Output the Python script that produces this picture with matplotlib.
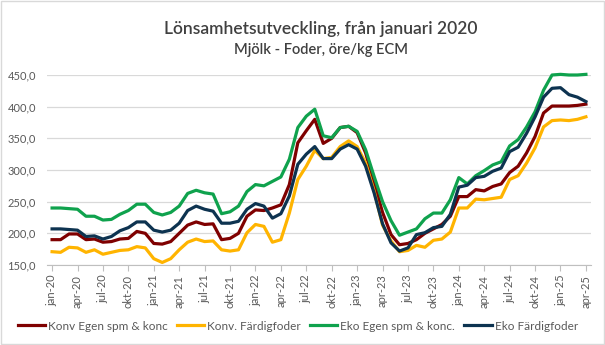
import matplotlib
matplotlib.use('Agg')
import matplotlib.pyplot as plt
import matplotlib.patches as patches
import numpy as np

plt.rcParams['font.family'] = ['Lato', 'DejaVu Sans']

# Månader jan-20 .. apr-25
monthNames = ['jan', 'feb', 'mar', 'apr', 'maj', 'jun', 'jul', 'aug', 'sep', 'okt', 'nov', 'dec']
months = [monthNames[m % 12] + '-' + str(20 + m // 12) for m in range(64)]

konvEgen = [190, 190, 199, 199, 190, 191, 186, 187, 191, 192, 203, 200, 184, 183, 187, 200,
            213, 218, 214, 215, 190, 192, 200, 227, 237, 236, 240, 245, 277, 343, 362, 380,
            342, 350, 367, 369, 359, 327, 280, 233, 198, 182, 184, 190, 200, 207, 214, 227,
            258, 258, 269, 267, 274, 278, 296, 306, 327, 353, 390, 401, 401, 401, 402, 404]

konvFardig = [171, 170, 178, 177, 170, 174, 167, 170, 173, 174, 179, 177, 160, 154, 160, 174,
              186, 191, 187, 188, 174, 172, 174, 201, 214, 211, 186, 190, 232, 285, 306, 331,
              318, 320, 337, 346, 337, 311, 267, 213, 188, 171, 173, 181, 178, 189, 191, 202,
              240, 240, 254, 253, 255, 257, 285, 291, 311, 335, 368, 378, 379, 378, 380, 384]

ekoEgen = [240, 240, 239, 238, 227, 227, 221, 222, 230, 236, 246, 246, 233, 229, 233, 243,
           263, 268, 264, 262, 231, 234, 243, 266, 277, 275, 282, 289, 317, 367, 385, 396,
           354, 351, 367, 369, 361, 332, 290, 250, 220, 197, 202, 207, 223, 232, 232, 253,
           288, 278, 291, 299, 308, 313, 338, 348, 368, 392, 426, 450, 451, 450, 450, 451]

ekoFardig = [207, 207, 206, 205, 195, 196, 191, 195, 204, 209, 218, 218, 205, 202, 205, 216,
             236, 243, 238, 235, 216, 216, 219, 238, 247, 243, 224, 231, 259, 309, 325, 337,
             318, 318, 333, 340, 333, 306, 264, 215, 185, 172, 177, 198, 201, 209, 211, 230,
             273, 276, 288, 290, 298, 303, 329, 336, 358, 384, 415, 429, 430, 419, 415, 408]

series = [
    ('Konv Egen spm & konc', konvEgen, '#7F0000'),
    ('Konv. Färdigfoder', konvFardig, '#FFB400'),
    ('Eko Egen spm & konc.', ekoEgen, '#0FA24D'),
    ('Eko Färdigfoder', ekoFardig, '#0D3350'),
]

textColor = '#595959'

fig = plt.figure(figsize=(6.05, 3.45), dpi=100)
ax = fig.add_axes([47/605, 80/345, 544/605, 190/345])

x = np.arange(len(months))
for name, vals, col in series:
    ax.plot(x, vals, color=col, lw=2.3, label=name, clip_on=False, solid_joinstyle='round')

ax.set_xlim(-0.6, 63.6)
ax.set_ylim(150, 450)
ax.set_yticks(np.arange(150, 451, 50))
ax.set_yticklabels([('%.1f' % v).replace('.', ',') for v in np.arange(150, 451, 50)])
ax.set_xticks(x[::3])
ax.set_xticklabels(months[::3], rotation=90)

ax.grid(axis='y', color='#D9D9D9', lw=0.9)
ax.set_axisbelow(True)
for side in ['top', 'right', 'left']:
    ax.spines[side].set_visible(False)
ax.spines['bottom'].set_color('#BFBFBF')
ax.tick_params(axis='y', length=0, labelsize=8, labelcolor=textColor, pad=8)
ax.tick_params(axis='x', length=4, color='#BFBFBF', labelsize=8, labelcolor=textColor, pad=3)

fig.text(0.53, 0.915, 'Lönsamhetsutveckling, från januari 2020', ha='center', va='center',
         fontsize=12.5, color='#404040', fontweight='semibold')
fig.text(0.53, 0.855, 'Mjölk - Foder, öre/kg ECM', ha='center', va='center',
         fontsize=10.5, color='#404040', fontweight='semibold')

fig.legend(loc='center', bbox_to_anchor=(0.492, 0.055), ncol=4, frameon=False,
           fontsize=8.5, handlelength=2.3, columnspacing=0.8, handletextpad=0.25,
           labelcolor=textColor)

# ram runt hela diagrammet
fig.patches.append(patches.Rectangle((0.002, 0.003), 0.996, 0.994, transform=fig.transFigure,
                                     fill=False, edgecolor='#D9D9D9', lw=1))

fig.savefig('out.png', dpi=100)
